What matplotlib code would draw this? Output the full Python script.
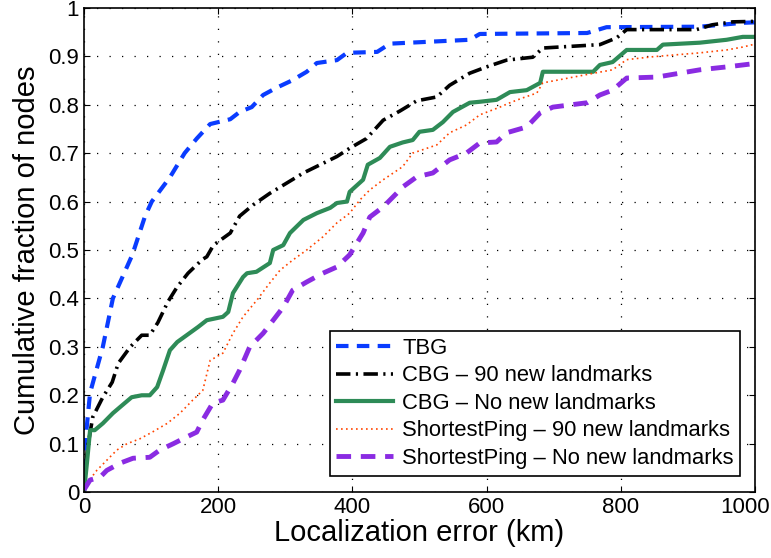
import matplotlib
matplotlib.use("Agg")
import matplotlib.pyplot as plt
from matplotlib.transforms import ScaledTranslation

plt.rcParams["font.family"] = ["Liberation Sans", "DejaVu Sans"]

# CDF knots for each method: (error in km, cumulative fraction)
tbg_x = [0, 3, 9, 28, 43, 72, 91, 101, 128, 150, 168, 188, 218, 232, 250, 267,
         287, 310, 332, 347, 377, 392, 437, 456, 575, 590, 750, 779, 918, 982, 1000]
tbg_y = [0, 0.12, 0.205, 0.30, 0.40, 0.49, 0.57, 0.60, 0.65, 0.70, 0.73, 0.76,
         0.77, 0.785, 0.795, 0.82, 0.835, 0.85, 0.868, 0.886, 0.892, 0.907,
         0.909, 0.926, 0.934, 0.946, 0.948, 0.960, 0.961, 0.969, 0.97]

cbg90_x = [0, 5, 13, 28, 42, 51, 69, 86, 98, 110, 125, 139, 155, 176, 183, 193,
           218, 232, 252, 277, 302, 327, 352, 377, 396, 421, 446, 471, 496, 526,
           545, 575, 600, 630, 669, 684, 769, 794, 809, 913, 937, 967, 1000]
cbg90_y = [0, 0.09, 0.155, 0.196, 0.227, 0.266, 0.30, 0.324, 0.324, 0.35, 0.393,
           0.424, 0.452, 0.48, 0.486, 0.51, 0.535, 0.57, 0.593, 0.617, 0.638,
           0.659, 0.676, 0.693, 0.71, 0.73, 0.768, 0.787, 0.808, 0.816, 0.84,
           0.865, 0.878, 0.892, 0.898, 0.917, 0.924, 0.938, 0.955, 0.955, 0.965,
           0.971, 0.972]

cbg0_x = [0, 5, 9, 16, 28, 43, 54, 71, 86, 98, 109, 118, 128, 139, 153, 170, 183,
          207, 215, 222, 237, 243, 257, 277, 282, 297, 307, 327, 347, 367, 377,
          392, 396, 416, 423, 441, 456, 475, 490, 500, 520, 535, 550, 575, 590,
          615, 635, 660, 680, 684, 759, 769, 788, 809, 854, 863, 918, 958, 982,
          1000]
cbg0_y = [0, 0.07, 0.128, 0.128, 0.142, 0.163, 0.176, 0.196, 0.2, 0.2, 0.217,
          0.252, 0.293, 0.31, 0.324, 0.341, 0.355, 0.362, 0.372, 0.411, 0.444,
          0.452, 0.455, 0.473, 0.5, 0.51, 0.535, 0.562, 0.576, 0.587, 0.597, 0.6,
          0.62, 0.645, 0.676, 0.69, 0.713, 0.722, 0.727, 0.744, 0.748, 0.764,
          0.785, 0.804, 0.806, 0.81, 0.826, 0.83, 0.845, 0.868, 0.868, 0.882,
          0.888, 0.913, 0.913, 0.924, 0.928, 0.934, 0.94, 0.94]

sp90_x = [0, 19, 34, 49, 64, 83, 103, 124, 143, 162, 177, 188, 207, 222, 237,
          258, 277, 292, 311, 332, 356, 377, 396, 411, 426, 446, 475, 490, 526,
          545, 570, 590, 620, 635, 654, 675, 684, 764, 788, 809, 848, 918, 958,
          982, 1000]
sp90_y = [0.01, 0.045, 0.066, 0.087, 0.1, 0.11, 0.125, 0.142, 0.163, 0.19, 0.21,
          0.272, 0.287, 0.328, 0.362, 0.397, 0.432, 0.458, 0.479, 0.5, 0.527,
          0.556, 0.576, 0.603, 0.624, 0.645, 0.672, 0.7, 0.717, 0.742, 0.758,
          0.779, 0.795, 0.804, 0.814, 0.824, 0.845, 0.866, 0.872, 0.893, 0.899,
          0.907, 0.913, 0.919, 0.925]

sp0_x = [0, 9, 24, 34, 54, 73, 98, 113, 133, 153, 168, 177, 192, 207, 222, 232,
         247, 267, 282, 297, 311, 332, 356, 377, 396, 416, 426, 446, 466, 475,
         496, 520, 545, 570, 590, 615, 630, 660, 680, 699, 750, 769, 788, 809,
         854, 918, 958, 982, 1000]
sp0_y = [0.005, 0.025, 0.031, 0.045, 0.06, 0.07, 0.072, 0.087, 0.1, 0.114, 0.124,
         0.149, 0.184, 0.19, 0.225, 0.252, 0.3, 0.328, 0.355, 0.382, 0.417, 0.434,
         0.452, 0.465, 0.49, 0.535, 0.568, 0.589, 0.617, 0.63, 0.651, 0.659,
         0.686, 0.70, 0.721, 0.723, 0.742, 0.754, 0.783, 0.795, 0.804, 0.82,
         0.83, 0.855, 0.857, 0.872, 0.878, 0.882, 0.885]

x_ticks = [0, 200, 400, 600, 800, 1000]
y_ticks = [0, 0.1, 0.2, 0.3, 0.4, 0.5, 0.6, 0.7, 0.8, 0.9, 1]
y_tick_labels = ["0", "0.1", "0.2", "0.3", "0.4", "0.5", "0.6", "0.7", "0.8", "0.9", "1"]

labels = ["TBG", "CBG \u2013 90 new landmarks", "CBG \u2013 No new landmarks",
          "ShortestPing \u2013 90 new landmarks", "ShortestPing \u2013 No new landmarks"]

fig = plt.figure(figsize=(7.71, 5.58), dpi=100)
ax = fig.add_axes([0.109, 0.118, 0.870, 0.868])

ax.plot(tbg_x, tbg_y, color="#0a3cff", ls=(0, (3, 2)), lw=3, label=labels[0])
ax.plot(cbg90_x, cbg90_y, color="black", ls=(0, (4, 1.5, 0.6, 1.5)), lw=2.6,
        label=labels[1])
ax.plot(cbg0_x, cbg0_y, color="#2e8b57", ls="-", lw=3, label=labels[2])
ax.plot(sp90_x, sp90_y, color="#ff4500", ls=(0, (1, 2)), lw=1.2, label=labels[3])
ax.plot(sp0_x, sp0_y, color="#8a2be2", ls=(0, (3, 2)), lw=3.5, label=labels[4])

ax.set_xlim(0, 1000)
ax.set_ylim(0, 1)
ax.set_xticks(x_ticks)
ax.set_yticks(y_ticks)
ax.set_yticklabels(y_tick_labels)
ax.tick_params(direction="in", top=True, right=True, labelsize=16, length=4)
# pull the last x label in so it stays on the canvas
last = ax.get_xticklabels()[-1]
last.set_transform(last.get_transform() + ScaledTranslation(-10 / 100, 0, fig.dpi_scale_trans))
ax.grid(True, color="black", ls=(0, (1, 9)), lw=0.9)
for s in ax.spines.values():
    s.set_linewidth(1.2)

ax.set_xlabel("Localization error (km)", fontsize=21, labelpad=1)
ax.set_ylabel("Cumulative fraction of nodes", fontsize=21, labelpad=5)

leg = ax.legend(loc="lower right", bbox_to_anchor=(0.985, 0.025), fontsize=15.8,
                fancybox=False, framealpha=1, edgecolor="black", handlelength=2.6,
                labelspacing=0.3, borderpad=0.3, handletextpad=0.4,
                borderaxespad=0.2)
leg.get_frame().set_linewidth(1.2)

fig.savefig("out.png", dpi=100)
